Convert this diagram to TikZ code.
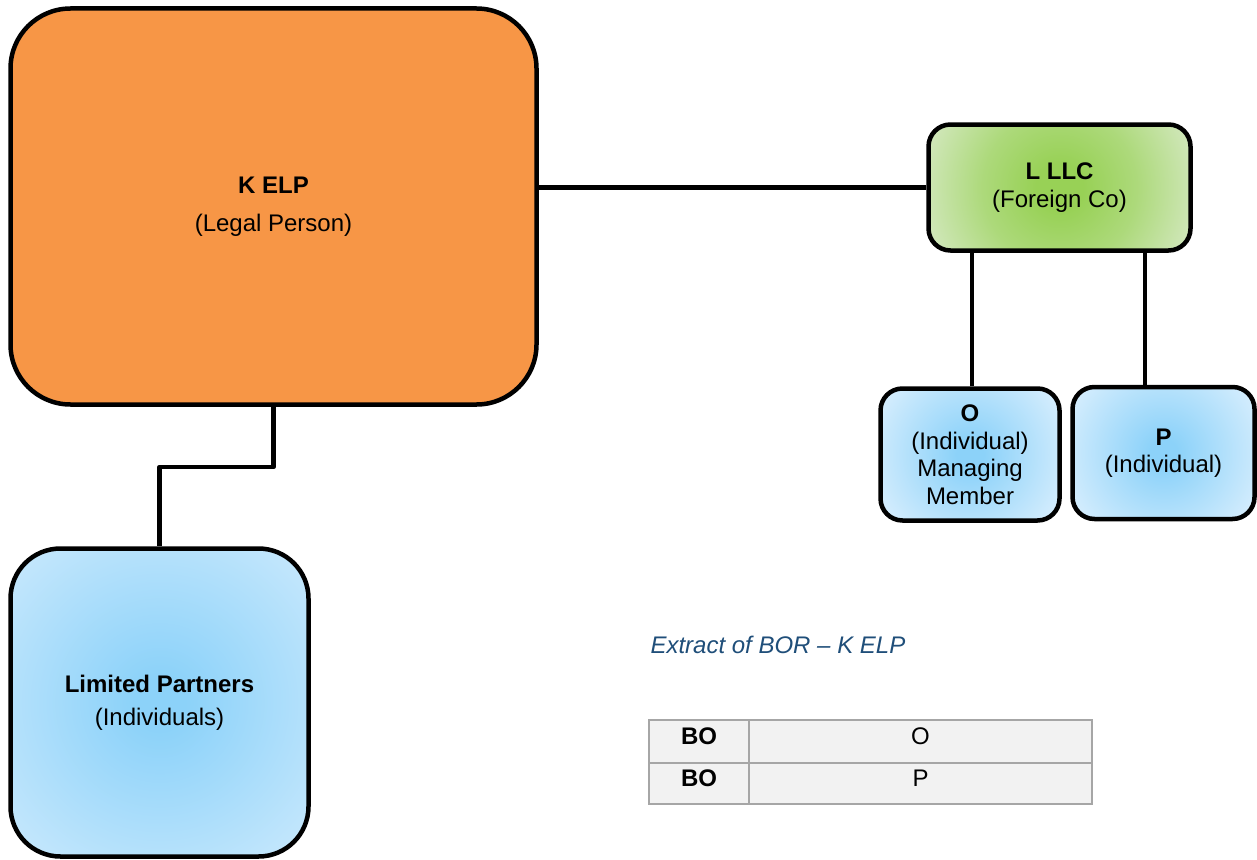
\documentclass[tikz,border=0pt]{standalone}
\usepackage{fontspec}
\setmainfont{Liberation Sans}
\usetikzlibrary{calc}
\definecolor{kelporange}{HTML}{F79646}
\definecolor{greenin}{HTML}{98D156}
\definecolor{greenedge}{HTML}{DDECD0}
\definecolor{greencorner}{HTML}{E8F1E0}
\definecolor{bluein}{HTML}{8CD2F9}
\definecolor{blueedge}{HTML}{D2ECFD}
\definecolor{bluecorner}{HTML}{E6F5FE}
\definecolor{titleblue}{HTML}{1F4E79}
\definecolor{cellfill}{HTML}{F2F2F2}
\definecolor{cellline}{HTML}{A6A6A6}
% round glows; the circle behind each box covers its corners
\pgfdeclareradialshading{greenglow}{\pgfpoint{0bp}{0bp}}{%
  color(0bp)=(greenin); color(4bp)=(greenin); color(13bp)=(greenin!70!greenedge);
  color(27bp)=(greenedge); color(50bp)=(greencorner)}
\pgfdeclareradialshading{blueglow}{\pgfpoint{0bp}{0bp}}{%
  color(0bp)=(bluein); color(3bp)=(bluein); color(28bp)=(blueedge); color(50bp)=(bluecorner)}
\pgfdeclareradialshading{bluesmallglow}{\pgfpoint{0bp}{0bp}}{%
  color(0bp)=(bluein); color(3bp)=(bluein); color(22bp)=(blueedge); color(50bp)=(bluecorner)}
\tikzset{
  entity/.style={draw=black, line width=4.5pt, rounded corners=#1, align=center,
    font=\fontsize{24}{27.5}\selectfont, inner sep=0pt},
  orangebox/.style={fill=kelporange},
  glow/.style 2 args={path picture={
    \shade[shading=#1] (path picture bounding box.center) circle[radius=#2];}},
  link/.style={line width=4.5pt, line join=round},
  cell/.style={draw=cellline, line width=1.2pt, fill=cellfill, inner sep=0pt},
  celltext/.style={font=\fontsize{24}{27.5}\selectfont},
  cellhead/.style={font=\fontsize{24}{27.5}\selectfont\bfseries}
}
\begin{document}
\begin{tikzpicture}[x=1pt, y=-1pt]
\useasboundingbox (0,0) rectangle (1257,859);

% entities
\node[entity=60pt, orangebox, minimum width=526pt, minimum height=396pt]
  (kelp) at (273.5,206.5) {\textbf{K ELP}\\[10.5pt](Legal Person)};
\node[entity=50pt, glow={blueglow}{216pt}, minimum width=298pt, minimum height=308pt]
  (lp) at (159.5,702.5) {\textbf{Limited Partners}\\[5.5pt](Individuals)};
\node[entity=22pt, glow={greenglow}{148pt}, minimum width=262pt, minimum height=126pt]
  (lllc) at (1059.5,187.5) {\textbf{L LLC}\\(Foreign Co)};
\node[entity=22pt, glow={bluesmallglow}{113pt}, minimum width=179pt, minimum height=132pt]
  (o) at (970,454.5) {\textbf{O}\\(Individual)\\Managing\\Member};
\node[entity=22pt, glow={bluesmallglow}{115pt}, minimum width=182pt, minimum height=132pt]
  (p) at (1163.5,453) {\textbf{P}\\(Individual)};

% ownership links
\draw[link] (kelp.south) -- (kelp.south |- 0,467) -| (lp.north);
\draw[link] (lllc.west -| kelp.east) -- (lllc.west);
\draw[link] (o.north -| 972,0) -- (lllc.south -| 972,0);
\draw[link] (p.north -| 1145,0) -- (lllc.south -| 1145,0);

% register extract
\node[anchor=west, text=titleblue, font=\fontsize{24}{27.5}\selectfont\itshape]
  (title) at (647,645) {Extract of BOR – K ELP};

\node[cell, minimum width=100pt, minimum height=43pt] (r1a) at (699,741.5) {};
\node[cell, minimum width=343pt, minimum height=43pt] (r1b) at (920.5,741.5) {};
\node[cell, minimum width=100pt, minimum height=41pt] (r2a) at (699,783.5) {};
\node[cell, minimum width=343pt, minimum height=41pt] (r2b) at (920.5,783.5) {};
\node[cellhead] (t1a) at (699,736) {BO};
\node[celltext] (t1b) at (920.5,736) {O};
\node[cellhead] (t2a) at (699,778) {BO};
\node[celltext] (t2b) at (920.5,778) {P};
\end{tikzpicture}
\end{document}
